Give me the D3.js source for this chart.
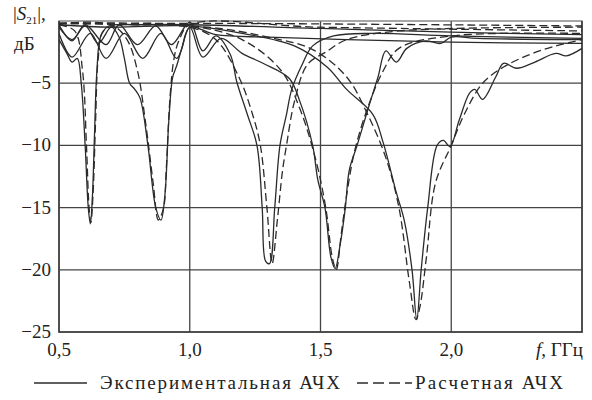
<!DOCTYPE html>
<html>
<head>
<meta charset="utf-8">
<script src="https://cdn.jsdelivr.net/npm/d3@7"></script>
<style>
  body { margin: 0; background: #fff; }
  svg { display: block; }
</style>
</head>
<body>
<svg id="chart" width="592" height="400"></svg>
<script>
// Frequency ticks (GHz) and dB ticks
const xTicks = [0.5, 1.0, 1.5, 2.0];
const xTickLabels = ["0,5", "1,0", "1,5", "2,0"];
const yTicks = [-5, -10, -15, -20, -25];
const yTickLabels = ["\u22125", "\u221210", "\u221215", "\u221220", "\u221225"];

// Experimental |S21| curves, [f GHz, dB]
const exp1 = [[0.5,-1.5],[0.53,-2.6],[0.55,-3.3],[0.57,-3.0],[0.585,-5],[0.6,-10],[0.612,-15],[0.62,-16.3],[0.628,-14],[0.636,-9],[0.645,-4],[0.66,-1.2],[0.69,-0.4],[0.8,-0.3],[1.0,-0.3],[1.5,-0.6],[2.0,-0.9],[2.5,-1.1]];
const exp2 = [[0.5,-0.5],[0.55,-1.5],[0.6,-0.4],[0.65,-1.8],[0.7,-0.5],[0.73,-1.3],[0.75,-3],[0.77,-5],[0.79,-5.5],[0.81,-6.2],[0.84,-10],[0.87,-15],[0.89,-16],[0.905,-14],[0.92,-8],[0.935,-4.5],[0.95,-3.6],[0.97,-2.2],[1.0,-0.5],[1.1,-1.1],[1.3,-1.3],[1.6,-1.5],[2.0,-1.7],[2.5,-1.8]];
const exp3 = [[0.5,-0.3],[0.55,-1.6],[0.6,-0.3],[0.68,-1.9],[0.73,-0.3],[0.8,-1.9],[0.87,-0.4],[0.93,-1.9],[1.0,-0.1],[1.05,-2.4],[1.1,-1.2],[1.155,-2.7],[1.18,-4.9],[1.22,-7.5],[1.257,-10],[1.277,-15],[1.29,-19.3],[1.305,-19.5],[1.325,-15],[1.345,-10],[1.37,-7.5],[1.39,-5.5],[1.43,-3.5],[1.47,-2],[1.55,-1.2],[1.7,-1.0],[2.0,-1.2],[2.5,-1.4]];
const exp4 = [[0.5,-1],[0.55,-2.9],[0.62,-1],[0.68,-3],[0.75,-1],[0.82,-3],[0.89,-1],[0.95,-3],[1.0,-0.5],[1.05,-2.9],[1.12,-1.4],[1.2,-2.6],[1.28,-3.4],[1.38,-4.6],[1.42,-6.4],[1.47,-10],[1.49,-12.8],[1.517,-15],[1.54,-19],[1.556,-19.9],[1.575,-18],[1.595,-15],[1.61,-12],[1.64,-10],[1.69,-6.5],[1.72,-4.5],[1.75,-2.4],[1.79,-3.3],[1.83,-2.2],[1.9,-1.6],[1.96,-1.8],[2.0,-1.3],[2.1,-1.4],[2.5,-1.5]];
const exp5 = [[0.5,-0.3],[0.7,-0.5],[1.0,-0.4],[1.2,-1],[1.4,-2],[1.525,-3.7],[1.6,-5.5],[1.7,-7.5],[1.74,-9.8],[1.79,-13.8],[1.82,-16],[1.85,-20],[1.868,-24],[1.885,-20],[1.91,-15],[1.946,-10],[1.97,-9.6],[1.995,-10.1],[2.03,-8],[2.07,-5.8],[2.09,-5.5],[2.12,-6.3],[2.17,-4.5],[2.2,-3.4],[2.25,-3.8],[2.32,-3.3],[2.4,-2.6],[2.44,-2.8],[2.5,-2.2]];

// Calculated |S21| curves, [f GHz, dB]
const calc1 = [[0.5,-0.3],[0.56,-0.8],[0.59,-4],[0.605,-10],[0.615,-15],[0.622,-16.2],[0.63,-14],[0.64,-8],[0.65,-3],[0.67,-0.8],[0.75,-0.3],[1.0,-0.2],[2.5,-0.4]];
const calc2 = [[0.5,-0.2],[0.7,-0.3],[0.76,-1.5],[0.8,-4],[0.83,-8],[0.86,-13],[0.88,-16],[0.9,-15],[0.91,-12],[0.925,-6],[0.94,-3],[0.96,-1.5],[1.0,-0.3],[1.5,-0.5],[2.5,-0.8]];
const calc3 = [[0.5,-0.2],[0.8,-0.3],[1.0,-0.5],[1.1,-1.5],[1.19,-4.6],[1.24,-7.5],[1.27,-10],[1.295,-15],[1.315,-19.5],[1.335,-16],[1.355,-12],[1.37,-10],[1.4,-6.5],[1.45,-3.5],[1.52,-2.5],[1.6,-1.5],[1.8,-0.8],[2.5,-0.5]];
const calc4 = [[0.5,-0.2],[1.0,-0.4],[1.2,-1.5],[1.35,-4],[1.42,-7],[1.48,-11],[1.52,-15],[1.545,-19],[1.56,-20],[1.58,-17],[1.6,-14],[1.63,-10.5],[1.68,-7],[1.74,-4],[1.8,-2.2],[2.0,-1.2],[2.5,-1]];
const calc5 = [[0.5,-0.2],[1.07,-0.5],[1.3,-1.3],[1.47,-2.3],[1.6,-4.5],[1.68,-7.5],[1.75,-11],[1.8,-15],[1.84,-21],[1.865,-24],[1.88,-23],[1.905,-19],[1.94,-13],[2.0,-10],[2.05,-7.5],[2.12,-5],[2.2,-3.7],[2.3,-2.7],[2.4,-2.0],[2.5,-1.5]];

const expSeries = [exp1, exp2, exp3, exp4, exp5];
const calcSeries = [calc1, calc2, calc3, calc4, calc5];

const serif = "'Liberation Serif', 'DejaVu Serif', 'Times New Roman', Times, 'Nimbus Roman', FreeSerif, serif";

const svg = d3.select("#chart");
const margin = {top: 21, right: 10, bottom: 68, left: 59};
const width = 592 - margin.left - margin.right;
const height = 400 - margin.top - margin.bottom;

const x = d3.scaleLinear().domain([0.5, 2.5]).range([margin.left, margin.left + width]);
const y = d3.scaleLinear().domain([-25, 0]).range([margin.top + height, margin.top]);

const ink = "#2b2b2b";

// grid
svg.append("g")
  .selectAll("line")
  .data(xTicks.slice(1))
  .join("line")
  .attr("x1", d => x(d)).attr("x2", d => x(d))
  .attr("y1", y(0)).attr("y2", y(-25))
  .attr("stroke", "#444").attr("stroke-width", 1.3);

svg.append("g")
  .selectAll("line")
  .data(yTicks.slice(0, -1))
  .join("line")
  .attr("x1", x(0.5)).attr("x2", x(2.5))
  .attr("y1", d => y(d)).attr("y2", d => y(d))
  .attr("stroke", "#444").attr("stroke-width", 1.3);

// frame
svg.append("rect")
  .attr("x", x(0.5)).attr("y", y(0))
  .attr("width", x(2.5) - x(0.5)).attr("height", y(-25) - y(0))
  .attr("fill", "none").attr("stroke", "#777").attr("stroke-width", 1.3);
svg.append("path")
  .attr("d", `M${x(0.5)},${y(0)}V${y(-25)}H${x(2.5)}V${y(0)}`)
  .attr("fill", "none").attr("stroke", "#333").attr("stroke-width", 1.5);

// curves
const line = d3.line()
  .x(d => x(d[0]))
  .y(d => y(d[1]))
  .curve(d3.curveCatmullRom.alpha(0.5));

svg.append("clipPath").attr("id", "plot")
  .append("rect")
  .attr("x", x(0.5)).attr("y", y(0) - 1)
  .attr("width", x(2.5) - x(0.5)).attr("height", y(-25) - y(0) + 1);

const curves = svg.append("g").attr("clip-path", "url(#plot)");

curves.selectAll("path.calc")
  .data(calcSeries)
  .join("path")
  .attr("class", "calc")
  .attr("d", line)
  .attr("fill", "none")
  .attr("stroke", ink)
  .attr("stroke-width", 1.3)
  .attr("stroke-dasharray", "8,4");

curves.selectAll("path.exp")
  .data(expSeries)
  .join("path")
  .attr("class", "exp")
  .attr("d", line)
  .attr("fill", "none")
  .attr("stroke", ink)
  .attr("stroke-width", 1.3);

// tick labels
svg.append("g")
  .selectAll("text")
  .data(xTicks)
  .join("text")
  .attr("x", d => x(d))
  .attr("y", 356)
  .attr("text-anchor", "middle")
  .attr("font-family", serif)
  .attr("font-size", 19)
  .attr("fill", "#222")
  .text((d, i) => xTickLabels[i]);

svg.append("g")
  .selectAll("text")
  .data(yTicks)
  .join("text")
  .attr("x", 51)
  .attr("y", d => y(d) + 6)
  .attr("text-anchor", "end")
  .attr("font-family", serif)
  .attr("font-size", 19)
  .attr("fill", "#222")
  .text((d, i) => yTickLabels[i]);

// axis titles
const xt = svg.append("text")
  .attr("x", x(2.5) + 1).attr("y", 356)
  .attr("text-anchor", "end")
  .attr("font-family", serif).attr("font-size", 19).attr("fill", "#222");
xt.append("tspan").attr("font-style", "italic").text("f");
xt.append("tspan").text(", ГГц");

const yt = svg.append("text").attr("x", 13).attr("y", 20)
  .attr("font-family", serif).attr("font-size", 19).attr("fill", "#222");
yt.append("tspan").text("|");
yt.append("tspan").attr("font-style", "italic").text("S");
yt.append("tspan").attr("font-size", 11).attr("dy", 4).text("21");
yt.append("tspan").attr("dy", -4).text("|,");
svg.append("text").attr("x", 14).attr("y", 50)
  .attr("font-family", serif).attr("font-size", 19).attr("fill", "#222")
  .text("дБ");

// legend
const ly = 383;
svg.append("line")
  .attr("x1", 34).attr("x2", 87).attr("y1", ly).attr("y2", ly)
  .attr("stroke", ink).attr("stroke-width", 1.3);
svg.append("text").attr("x", 100).attr("y", ly + 6)
  .attr("font-family", serif).attr("font-size", 19).attr("fill", "#222")
  .attr("textLength", 240)
  .text("Экспериментальная АЧХ");
svg.append("line")
  .attr("x1", 357).attr("x2", 412).attr("y1", ly).attr("y2", ly)
  .attr("stroke", ink).attr("stroke-width", 1.3)
  .attr("stroke-dasharray", "11,5");
svg.append("text").attr("x", 415).attr("y", ly + 6)
  .attr("font-family", serif).attr("font-size", 19).attr("fill", "#222")
  .attr("textLength", 148)
  .text("Расчетная АЧХ");
</script>
</body>
</html>
